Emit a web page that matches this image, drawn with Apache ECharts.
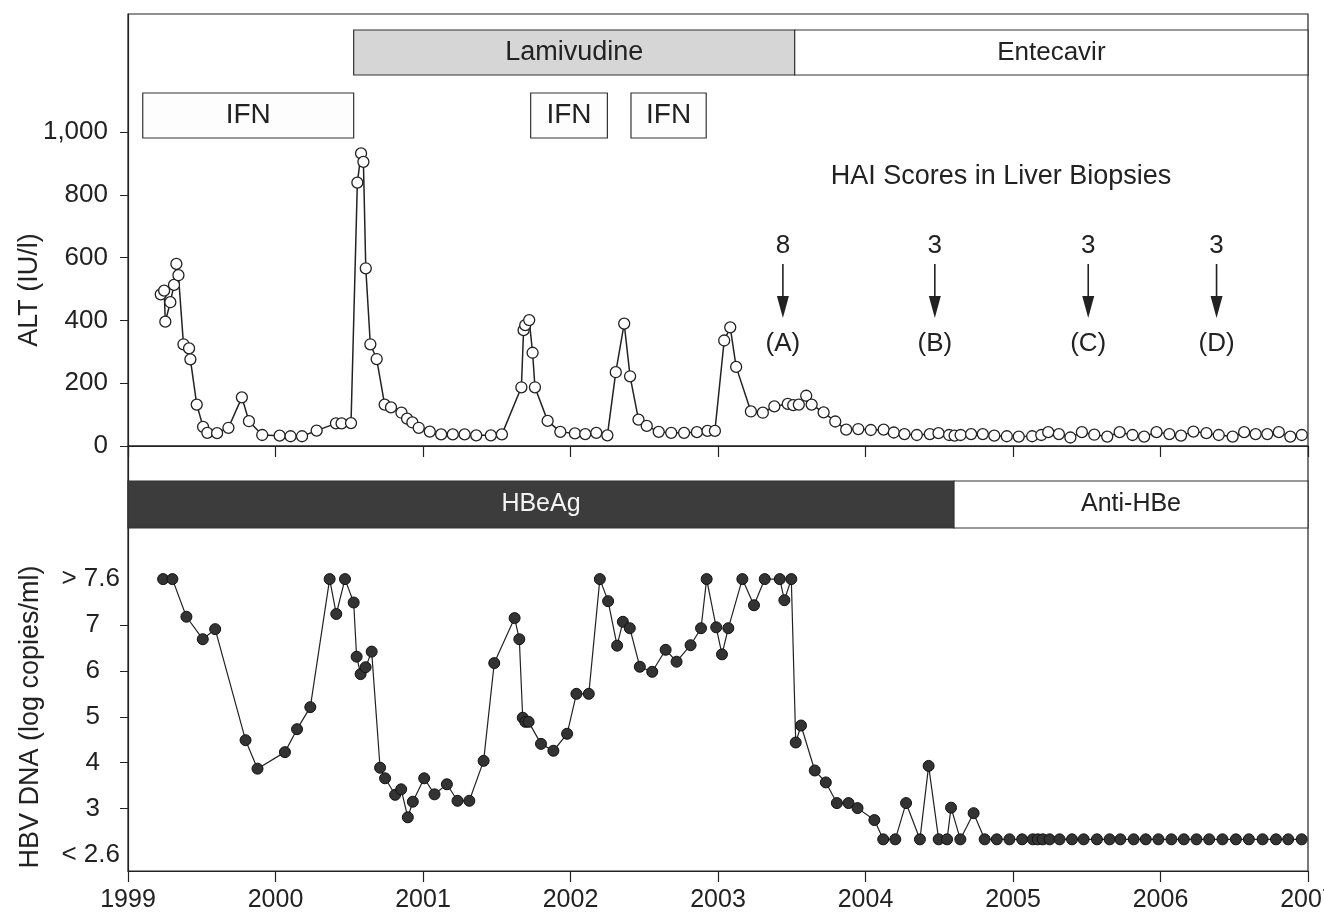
<!DOCTYPE html>
<html>
<head>
<meta charset="utf-8">
<title>ALT / HBV DNA</title>
<script src="https://cdn.jsdelivr.net/npm/echarts@6/dist/echarts.min.js"></script>
<style>
    html, body { margin: 0; padding: 0; background: #fff; }
    #chart { width: 1324px; height: 916px; }
</style>
</head>
<body>
<div id="chart"></div>
<script>
// 字体
var FONT = '"Liberation Sans", Arial, sans-serif';

// 刻度
var yearTicks = [1999, 2000, 2001, 2002, 2003, 2004, 2005, 2006, 2007];
var altTicks = [0, 200, 400, 600, 800, 1000];
var dnaTicks = [3, 4, 5, 6, 7];
var dnaEdgeTicks = [2, 8];
var dnaEdgeLabels = ['< 2.6', '> 7.6'];

// ALT (IU/l)
var altDates = [1999.222, 1999.245, 1999.253, 1999.287, 1999.312, 1999.328, 1999.342, 1999.376, 1999.414, 1999.423,
    1999.466, 1999.509, 1999.538, 1999.604, 1999.681, 1999.772, 1999.820, 1999.910, 2000.028, 2000.102,
    2000.180, 2000.279, 2000.410, 2000.448, 2000.512, 2000.555, 2000.580, 2000.596, 2000.612, 2000.643,
    2000.686, 2000.740, 2000.783, 2000.854, 2000.892, 2000.928, 2000.971, 2001.046, 2001.123, 2001.202,
    2001.282, 2001.361, 2001.460, 2001.535, 2001.667, 2001.682, 2001.693, 2001.720, 2001.743, 2001.759,
    2001.845, 2001.931, 2002.030, 2002.100, 2002.175, 2002.250, 2002.307, 2002.364, 2002.404, 2002.461,
    2002.517, 2002.598, 2002.683, 2002.770, 2002.857, 2002.929, 2002.979, 2003.042, 2003.083, 2003.123,
    2003.223, 2003.304, 2003.382, 2003.473, 2003.510, 2003.548, 2003.598, 2003.635, 2003.716, 2003.795,
    2003.869, 2003.951, 2004.036, 2004.123, 2004.192, 2004.264, 2004.348, 2004.436, 2004.495, 2004.567,
    2004.604, 2004.645, 2004.716, 2004.795, 2004.873, 2004.958, 2005.039, 2005.130, 2005.192, 2005.239,
    2005.311, 2005.389, 2005.467, 2005.551, 2005.639, 2005.723, 2005.810, 2005.889, 2005.973, 2006.060,
    2006.139, 2006.223, 2006.311, 2006.395, 2006.489, 2006.567, 2006.645, 2006.724, 2006.802, 2006.880,
    2006.958];
var altValues = [483, 495, 396, 458, 513, 580, 544, 324, 311, 276,
    132, 61, 42, 41, 58, 155, 79, 35, 33, 31,
    31, 49, 72, 72, 73, 839, 932, 905, 566, 324,
    277, 132, 123, 106, 87, 75, 58, 46, 37, 37,
    37, 34, 34, 37, 187, 369, 385, 401, 297, 187,
    80, 45, 40, 38, 42, 34, 235, 390, 222, 84,
    64, 45, 42, 42, 44, 48, 48, 336, 378, 252,
    110, 106, 126, 134, 130, 132, 160, 132, 107, 78,
    52, 54, 51, 52, 43, 38, 35, 38, 41, 35,
    33, 35, 38, 38, 33, 31, 30, 31, 35, 44,
    38, 27, 44, 36, 30, 44, 35, 30, 44, 38,
    33, 46, 41, 35, 30, 44, 38, 38, 44, 30,
    35];

// HBV DNA (log copies/ml)，> 7.6 记为 8，< 2.6 记为 2.33
var dnaDates = [1999.238, 1999.301, 1999.396, 1999.507, 1999.591, 1999.797, 1999.878, 2000.064, 2000.146, 2000.236,
    2000.367, 2000.412, 2000.471, 2000.530, 2000.550, 2000.577, 2000.611, 2000.652, 2000.709, 2000.743,
    2000.811, 2000.852, 2000.897, 2000.931, 2001.008, 2001.078, 2001.162, 2001.234, 2001.314, 2001.411,
    2001.483, 2001.621, 2001.653, 2001.676, 2001.694, 2001.716, 2001.800, 2001.884, 2001.977, 2002.040,
    2002.124, 2002.199, 2002.255, 2002.316, 2002.355, 2002.402, 2002.470, 2002.554, 2002.645, 2002.719,
    2002.814, 2002.885, 2002.923, 2002.988, 2003.027, 2003.070, 2003.165, 2003.244, 2003.317, 2003.419,
    2003.450, 2003.497, 2003.527, 2003.563, 2003.656, 2003.731, 2003.806, 2003.885, 2003.946, 2004.060,
    2004.120, 2004.202, 2004.275, 2004.369, 2004.428, 2004.496, 2004.553, 2004.580, 2004.643, 2004.733,
    2004.808, 2004.890, 2004.976, 2005.062, 2005.134, 2005.168, 2005.202, 2005.248, 2005.316, 2005.400,
    2005.479, 2005.569, 2005.655, 2005.728, 2005.818, 2005.900, 2005.986, 2006.074, 2006.158, 2006.244,
    2006.330, 2006.420, 2006.511, 2006.599, 2006.692, 2006.783, 2006.866, 2006.957];
var dnaValues = [8, 8, 7.18, 6.69, 6.91, 4.49, 3.87, 4.23, 4.73, 5.21,
    8, 7.24, 8, 7.49, 6.31, 5.93, 6.08, 6.42, 3.89, 3.66,
    3.30, 3.42, 2.81, 3.15, 3.66, 3.31, 3.53, 3.17, 3.17, 4.04,
    6.17, 7.15, 6.69, 4.98, 4.89, 4.89, 4.41, 4.26, 4.63, 5.50,
    5.50, 8, 7.52, 6.55, 7.07, 6.93, 6.09, 5.98, 6.46, 6.20,
    6.56, 6.93, 8, 6.95, 6.36, 6.93, 8, 7.43, 8, 8,
    7.54, 8, 4.44, 4.81, 3.83, 3.57, 3.12, 3.12, 3.01, 2.75,
    2.33, 2.33, 3.12, 2.33, 3.93, 2.33, 2.33, 3.02, 2.33, 2.90,
    2.33, 2.33, 2.33, 2.33, 2.33, 2.33, 2.33, 2.33, 2.33, 2.33,
    2.33, 2.33, 2.33, 2.33, 2.33, 2.33, 2.33, 2.33, 2.33, 2.33,
    2.33, 2.33, 2.33, 2.33, 2.33, 2.33, 2.33, 2.33];

// 治疗时间段
var treatNames = ['IFN', 'Lamivudine', 'IFN', 'IFN', 'Entecavir'];
var treatStart = [1999.10, 2000.53, 2001.73, 2002.41, 2003.52];
var treatEnd = [2000.53, 2003.52, 2002.25, 2002.92, 2007];

// 血清学状态
var seroNames = ['HBeAg', 'Anti-HBe'];
var seroStart = [1999, 2004.60];
var seroEnd = [2004.60, 2007];

// 肝活检
var biopsyDates = [2003.44, 2004.47, 2005.51, 2006.38];
var haiScores = ['8', '3', '3', '3'];
var biopsyLabels = ['(A)', '(B)', '(C)', '(D)'];

// 横条样式（像素位置）
var bandStyle = {
    'IFN': { top: 93, bottom: 138, fill: '#fdfdfd', color: '#222', size: 28 },
    'Lamivudine': { top: 30, bottom: 75, fill: '#d6d6d6', color: '#222', size: 27 },
    'Entecavir': { top: 30, bottom: 75, fill: '#ffffff', color: '#222', size: 26 },
    'HBeAg': { top: 481, bottom: 528, fill: '#3c3c3c', color: '#f4f4f4', size: 25 },
    'Anti-HBe': { top: 481, bottom: 528, fill: '#ffffff', color: '#222', size: 25 }
};

function zip(a, b) {
    var out = [];
    for (var i = 0; i < a.length; i++) {
        out.push([a[i], b[i]]);
    }
    return out;
}

function bandRenderer(names) {
    return function (params, api) {
        var name = names[params.dataIndex];
        var st = bandStyle[name];
        var x0 = api.coord([api.value(0), 5])[0];
        var x1 = api.coord([api.value(1), 5])[0];
        return {
            type: 'group',
            children: [{
                type: 'rect',
                shape: { x: x0, y: st.top, width: x1 - x0, height: st.bottom - st.top },
                style: { fill: st.fill, stroke: '#333', lineWidth: 1.2 }
            }, {
                type: 'text',
                style: {
                    x: (x0 + x1) / 2, y: (st.top + st.bottom) / 2, text: name,
                    fill: st.color, font: st.size + 'px ' + FONT,
                    align: 'center', verticalAlign: 'middle'
                }
            }]
        };
    };
}

function biopsyRenderer(params, api) {
    var i = params.dataIndex;
    var x = api.coord([api.value(0), 0])[0];
    return {
        type: 'group',
        children: [{
            type: 'text',
            style: { x: x, y: 246, text: haiScores[i], fill: '#222', font: '26px ' + FONT, align: 'center', verticalAlign: 'middle' }
        }, {
            type: 'line',
            shape: { x1: x, y1: 264, x2: x, y2: 302 },
            style: { stroke: '#222', lineWidth: 1.6 }
        }, {
            type: 'polygon',
            shape: { points: [[x - 6, 296], [x + 6, 296], [x, 318]] },
            style: { fill: '#222' }
        }, {
            type: 'text',
            style: { x: x, y: 344, text: biopsyLabels[i], fill: '#222', font: '26px ' + FONT, align: 'center', verticalAlign: 'middle' }
        }]
    };
}

var yText = { color: '#222', fontFamily: FONT, fontSize: 26 };
var xText = { color: '#222', fontFamily: FONT, fontSize: 25 };

var chart = echarts.init(document.getElementById('chart'));
chart.setOption({
    animation: false,
    backgroundColor: '#fff',
    grid: [
        { left: 128, right: 16, top: 14, height: 432, outerBoundsMode: 'none', show: true, borderColor: '#222', borderWidth: 1.2 },
        { left: 128, right: 16, top: 446, height: 425, outerBoundsMode: 'none', show: true, borderColor: '#222', borderWidth: 1.2 }
    ],
    xAxis: [{
        gridIndex: 0, type: 'value', min: 1999, max: 2007, interval: 1,
        axisLine: { lineStyle: { color: '#222', width: 1.2 } },
        axisTick: { length: 11, lineStyle: { color: '#222', width: 1.2 } },
        axisLabel: { show: false },
        splitLine: { show: false }
    }, {
        gridIndex: 1, type: 'value', min: 1999, max: 2007, interval: 1,
        axisLine: { lineStyle: { color: '#222', width: 1.2 } },
        axisTick: { length: 11, lineStyle: { color: '#222', width: 1.2 } },
        axisLabel: Object.assign({ margin: 17, formatter: function (v) { return String(v); } }, xText),
        splitLine: { show: false }
    }],
    yAxis: [{
        gridIndex: 0, type: 'value', min: 0, max: 1376, position: 'left',
        axisLine: { show: true, lineStyle: { color: '#222', width: 1.2 } },
        axisTick: { show: true, length: 8, customValues: altTicks, lineStyle: { color: '#222' } },
        axisLabel: Object.assign({
            margin: 20, customValues: altTicks,
            formatter: function (v) { return v >= 1000 ? '1,000' : String(v); }
        }, yText),
        splitLine: { show: false }
    }, {
        gridIndex: 1, type: 'value', min: 1.64, max: 10.9, position: 'left',
        axisLine: { show: true, lineStyle: { color: '#222', width: 1.2 } },
        axisTick: { show: true, length: 8, customValues: dnaTicks, lineStyle: { color: '#222' } },
        axisLabel: Object.assign({
            margin: 28, customValues: dnaTicks,
            formatter: function (v) { return String(v); }
        }, yText),
        splitLine: { show: false }
    }, {
        gridIndex: 1, type: 'value', min: 1.64, max: 10.9, position: 'left', offset: 0,
        axisLine: { show: false },
        axisTick: { show: false },
        axisLabel: Object.assign({
            margin: 8, customValues: dnaEdgeTicks,
            formatter: function (v) { return dnaEdgeLabels[dnaEdgeTicks.indexOf(Math.round(v))]; }
        }, yText),
        splitLine: { show: false }
    }],
    graphic: [{
        type: 'text', x: 1001, y: 177, z: 10,
        style: { text: 'HAI Scores in Liver Biopsies', fill: '#222', font: '27px ' + FONT, align: 'center', verticalAlign: 'middle' }
    }, {
        type: 'text', x: 30, y: 290, rotation: Math.PI / 2, z: 10,
        style: { text: 'ALT (IU/l)', fill: '#222', font: '27px ' + FONT, align: 'center', verticalAlign: 'middle' }
    }, {
        type: 'text', x: 31, y: 717, rotation: Math.PI / 2, z: 10,
        style: { text: 'HBV DNA (log copies/ml)', fill: '#222', font: '27px ' + FONT, align: 'center', verticalAlign: 'middle' }
    }],
    series: [{
        type: 'custom', name: 'treatment', xAxisIndex: 0, yAxisIndex: 0, clip: false,
        renderItem: bandRenderer(treatNames),
        encode: { x: [0, 1] },
        data: zip(treatStart, treatEnd)
    }, {
        type: 'custom', name: 'serology', xAxisIndex: 1, yAxisIndex: 1, clip: false,
        renderItem: bandRenderer(seroNames),
        encode: { x: [0, 1] },
        data: zip(seroStart, seroEnd)
    }, {
        type: 'custom', name: 'biopsy', xAxisIndex: 0, yAxisIndex: 0, clip: false,
        renderItem: biopsyRenderer,
        encode: { x: 0 },
        data: biopsyDates.map(function (d) { return [d]; })
    }, {
        type: 'line', name: 'ALT', xAxisIndex: 0, yAxisIndex: 0, z: 5,
        symbol: 'circle', symbolSize: 11,
        itemStyle: { color: '#ffffff', borderColor: '#222', borderWidth: 1.3 },
        lineStyle: { color: '#222', width: 1.5 },
        data: zip(altDates, altValues)
    }, {
        type: 'line', name: 'HBV DNA', xAxisIndex: 1, yAxisIndex: 1, z: 5,
        symbol: 'circle', symbolSize: 11,
        itemStyle: { color: '#333333', borderColor: '#111', borderWidth: 1 },
        lineStyle: { color: '#222', width: 1.2 },
        data: zip(dnaDates, dnaValues)
    }]
});
</script>
</body>
</html>
